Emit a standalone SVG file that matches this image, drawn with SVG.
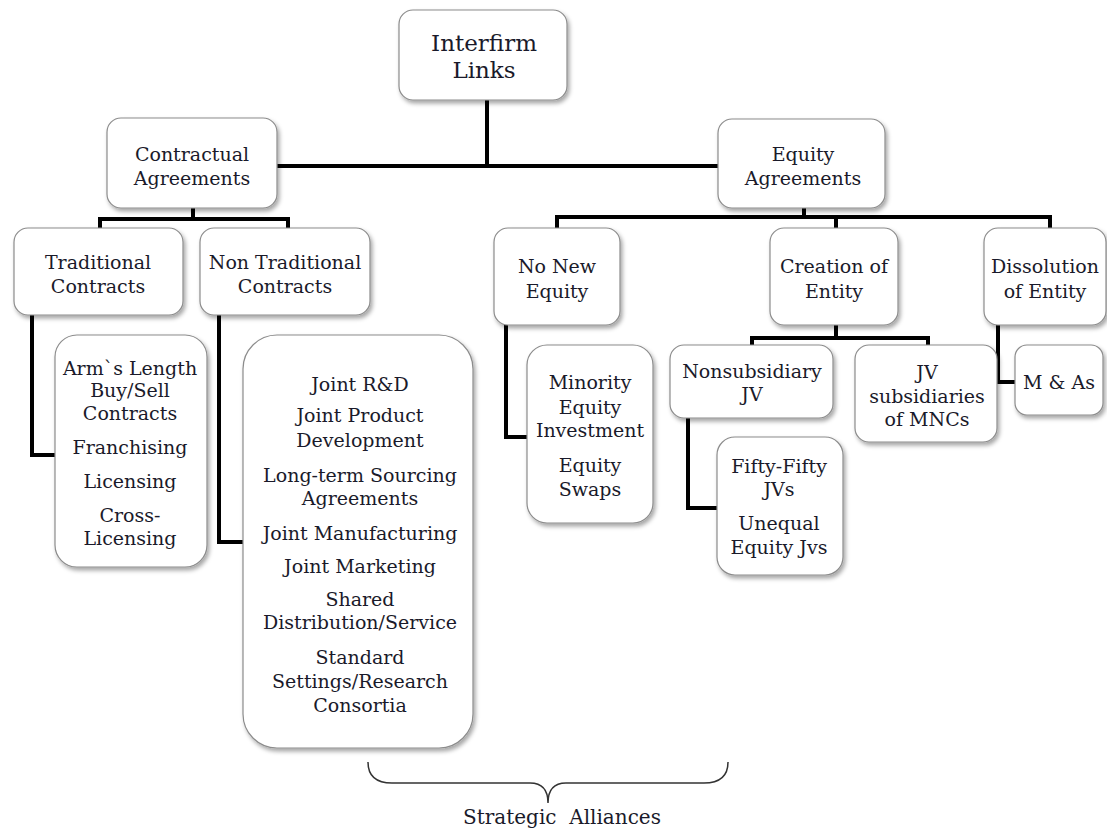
<svg xmlns="http://www.w3.org/2000/svg" width="1107" height="834" viewBox="0 0 1107 834">
<defs>
<filter id="sh" x="-20%" y="-20%" width="140%" height="140%">
<feDropShadow dx="2" dy="3" stdDeviation="2" flood-color="#000" flood-opacity="0.35"/>
</filter>
<style>
.box{fill:#fff;stroke:#8c8c8c;stroke-width:1.2;filter:url(#sh)}
.t{font-family:"DejaVu Serif","Liberation Serif",serif;font-size:19px;fill:#1a1a2a;text-anchor:middle}
.big{font-size:23px}
.c{fill:none;stroke:#000;stroke-width:4;stroke-linejoin:miter}
.brace{fill:none;stroke:#333;stroke-width:1.5}
</style>
</defs>
<rect width="1107" height="834" fill="#fff"/>
<g id="connectors">
<polyline class="c" points="487,100 487,166"/>
<polyline class="c" points="277,166 718,166"/>
<polyline class="c" points="193,208 193,219"/>
<polyline class="c" points="100,228 100,219 288,219 288,228"/>
<polyline class="c" points="804,208 804,217"/>
<polyline class="c" points="557,228 557,217 1050,217 1050,228"/>
<polyline class="c" points="836,217 836,228"/>
<polyline class="c" points="32,315 32,455 55,455"/>
<polyline class="c" points="219,315 219,542 243,542"/>
<polyline class="c" points="506,325 506,437 527,437"/>
<polyline class="c" points="836,325 836,338"/>
<polyline class="c" points="752,345 752,338 928,338 928,345"/>
<polyline class="c" points="998,325 998,382 1015,382"/>
<polyline class="c" points="688,418 688,508 717,508"/>
</g>
<g id="interfirm"><rect class="box" x="399" y="10" width="168" height="90" rx="14"/>
<text class="t big" x="484" y="51">Interfirm</text><text class="t big" x="484" y="78">Links</text></g>
<g id="contractual"><rect class="box" x="107" y="118" width="170" height="90" rx="14"/>
<text class="t" x="192" y="161">Contractual</text><text class="t" x="192" y="185">Agreements</text></g>
<g id="equity"><rect class="box" x="718" y="119" width="167" height="89" rx="14"/>
<text class="t" x="803" y="161">Equity</text><text class="t" x="803" y="185">Agreements</text></g>
<g id="traditional"><rect class="box" x="14" y="228" width="169" height="87" rx="14"/>
<text class="t" x="98" y="269">Traditional</text><text class="t" x="98" y="293">Contracts</text></g>
<g id="nontraditional"><rect class="box" x="200" y="228" width="170" height="87" rx="14"/>
<text class="t" x="285" y="269">Non Traditional</text><text class="t" x="285" y="293">Contracts</text></g>
<g id="nonewequity"><rect class="box" x="494" y="228" width="126" height="97" rx="14"/>
<text class="t" x="557" y="273">No New</text><text class="t" x="557" y="298">Equity</text></g>
<g id="creation"><rect class="box" x="770" y="228" width="128" height="97" rx="14"/>
<text class="t" x="834" y="273">Creation of</text><text class="t" x="834" y="298">Entity</text></g>
<g id="dissolution"><rect class="box" x="984" y="228" width="122" height="97" rx="14"/>
<text class="t" x="1045" y="273">Dissolution</text><text class="t" x="1045" y="298">of Entity</text></g>
<g id="traditional-list"><rect class="box" x="55" y="335" width="152" height="232" rx="22"/>
<text class="t" x="130" y="375">Arm`s Length</text>
<text class="t" x="130" y="397">Buy/Sell</text>
<text class="t" x="130" y="420">Contracts</text>
<text class="t" x="130" y="454">Franchising</text>
<text class="t" x="130" y="488">Licensing</text>
<text class="t" x="130" y="522">Cross-</text>
<text class="t" x="130" y="545">Licensing</text></g>
<g id="nontraditional-list"><rect class="box" x="243" y="335" width="230" height="413" rx="34"/>
<text class="t" x="360" y="391">Joint R&amp;D</text>
<text class="t" x="360" y="422">Joint Product</text>
<text class="t" x="360" y="447">Development</text>
<text class="t" x="360" y="482">Long-term Sourcing</text>
<text class="t" x="360" y="505">Agreements</text>
<text class="t" x="360" y="540">Joint Manufacturing</text>
<text class="t" x="360" y="573">Joint Marketing</text>
<text class="t" x="360" y="606">Shared</text>
<text class="t" x="360" y="629">Distribution/Service</text>
<text class="t" x="360" y="664">Standard</text>
<text class="t" x="360" y="688">Settings/Research</text>
<text class="t" x="360" y="712">Consortia</text></g>
<g id="minority"><rect class="box" x="527" y="345" width="126" height="178" rx="20"/>
<text class="t" x="590" y="389">Minority</text>
<text class="t" x="590" y="414">Equity</text>
<text class="t" x="590" y="437">Investment</text>
<text class="t" x="590" y="472">Equity</text>
<text class="t" x="590" y="496">Swaps</text></g>
<g id="nonsubsidiary"><rect class="box" x="670" y="345" width="163" height="73" rx="14"/>
<text class="t" x="752" y="378">Nonsubsidiary</text><text class="t" x="752" y="401">JV</text></g>
<g id="jvsubsidiaries"><rect class="box" x="855" y="345" width="142" height="97" rx="14"/>
<text class="t" x="927" y="379">JV</text><text class="t" x="927" y="403">subsidiaries</text><text class="t" x="927" y="426">of MNCs</text></g>
<g id="mas"><rect class="box" x="1015" y="345" width="88" height="70" rx="12"/>
<text class="t" x="1059" y="389">M &amp; As</text></g>
<g id="fiftyfifty"><rect class="box" x="717" y="437" width="126" height="138" rx="18"/>
<text class="t" x="779" y="473">Fifty-Fifty</text>
<text class="t" x="779" y="496">JVs</text>
<text class="t" x="779" y="530">Unequal</text>
<text class="t" x="779" y="554">Equity Jvs</text></g>
<g id="strategic-alliances">
<path class="brace" d="M368,762 Q368,783 392,783 L530,783 Q548,783 548,803 Q548,783 566,783 L704,783 Q728,783 728,762"/>
<text class="t" x="562" y="824" style="font-size:20px" xml:space="preserve">Strategic  Alliances</text></g>
</svg>
